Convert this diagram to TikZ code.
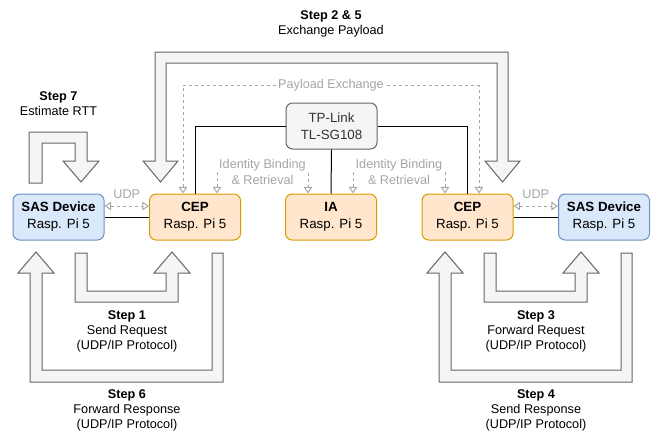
\documentclass[tikz,border=0pt]{standalone}
\usepackage{fontspec}
\setmainfont{Liberation Sans}
\usepackage{tikz}
\usetikzlibrary{arrows.meta, calc, positioning}
\definecolor{sasfill}{HTML}{DAE8FC}
\definecolor{sasline}{HTML}{6C8EBF}
\definecolor{pifill}{HTML}{FFE6CC}
\definecolor{piline}{HTML}{D79B00}
\definecolor{swfill}{HTML}{F5F5F5}
\definecolor{swline}{HTML}{666666}
\definecolor{dashgray}{HTML}{A6A6A6}
\definecolor{notegray}{HTML}{A6A6A6}

\begin{document}
\begin{tikzpicture}[x=0.75pt, y=-0.75pt,
  box/.style={draw, rounded corners=5pt, line width=0.75pt, minimum width=68.25pt, minimum height=34.5pt, inner sep=0pt, align=center, font=\fontsize{10}{12.75}\selectfont},
  sas/.style={box, fill=sasfill, draw=sasline},
  pi/.style={box, fill=pifill, draw=piline},
  switch/.style={box, fill=swfill, draw=swline, text=black!80},
  wire/.style={line width=0.75pt},
  flow/.style={draw=dashgray, line width=0.75pt, dash pattern=on 2.25pt off 2.25pt, {Triangle[open,length=5pt,width=6.5pt]}-{Triangle[open,length=5pt,width=6.5pt]}},
  note/.style={fill=white, text=notegray, align=center, inner sep=1pt, font=\fontsize{9.5}{12}\selectfont},
  blockarrow/.style={fill=swfill, draw=swline, line width=0.75pt},
  steptext/.style={align=center, font=\fontsize{9.5}{11.25}\selectfont}
]
\useasboundingbox (0,0) rectangle (652,432);

% devices
\node[sas] (sasL) at (58.5,217) {\textbf{SAS Device}\\Rasp. Pi 5};
\node[pi] (cepL) at (195,217) {\textbf{CEP}\\Rasp. Pi 5};
\node[pi] (ia) at (331,217) {\textbf{IA}\\Rasp. Pi 5};
\node[pi] (cepR) at (467.5,217) {\textbf{CEP}\\Rasp. Pi 5};
\node[sas] (sasR) at (604,217) {\textbf{SAS Device}\\Rasp. Pi 5};
\node[switch] (tplink) at (331.5,126) {TP-Link\\TL-SG108};

% ethernet wiring
\draw[wire] (tplink.west) -| (cepL.north);
\draw[wire] (tplink.east) -| (cepR.north);
\draw[wire] (tplink.south) -- (ia.north);
\draw[wire] (sasL.east) -- (cepL.west);
\draw[wire] (cepR.east) -- (sasR.west);

% logical flows
\draw[flow] ($(sasL.east)+(0,-11)$) -- node[note, above=4pt] (udpL) {UDP} ($(cepL.west)+(0,-11)$);
\draw[flow] ($(cepR.east)+(0,-11)$) -- node[note, above=4pt] (udpR) {UDP} ($(sasR.west)+(0,-11)$);
\draw[flow] ($(cepL.north)+(22,0)$) -- ++(0,-22) -- node[note] (idL) {Identity Binding\\\& Retrieval} ++(91,0) -- ++(0,22);
\draw[flow] ($(ia.north)+(22,0)$) -- ++(0,-22) -- node[note] (idR) {Identity Binding\\\& Retrieval} ++(92,0) -- ++(0,22);
\draw[flow] ($(cepL.north)+(-12,0)$) -- ++(0,-108) -- node[note, inner sep=0.5pt] (pay) {Payload Exchange} ++(296,0) -- ++(0,108);

% step arrows
\draw[blockarrow] (160.5,182) -- (143,161) -- (155,161) -- (155,52) -- (508,52) -- (508,161) -- (520,161) -- (502.5,182) -- (485,161) -- (497,161) -- (497,63) -- (166,63) -- (166,161) -- (178,161) -- cycle;
\draw[blockarrow] (29,183) -- (29,132) -- (87,132) -- (87,161) -- (99,161) -- (81,182) -- (63,161) -- (75,161) -- (75,143) -- (42,143) -- (42,183) -- cycle;
\draw[blockarrow] (75,253) -- (87,253) -- (87,291) -- (166,291) -- (166,273) -- (154,273) -- (172,252) -- (190,273) -- (178,273) -- (178,302) -- (75,302) -- cycle;
\draw[blockarrow] (36,252) -- (54,273) -- (42,273) -- (42,370) -- (212,370) -- (212,253) -- (223,253) -- (223,382) -- (30,382) -- (30,273) -- (18,273) -- cycle;
\draw[blockarrow] (484,253) -- (496,253) -- (496,291) -- (575,291) -- (575,273) -- (563,273) -- (581,252) -- (599,273) -- (587,273) -- (587,302) -- (484,302) -- cycle;
\draw[blockarrow] (445,252) -- (463,273) -- (451,273) -- (451,370) -- (621,370) -- (621,253) -- (632,253) -- (632,382) -- (439,382) -- (439,273) -- (427,273) -- cycle;

% step captions
\node[steptext] (s25) at (331,24) {\textbf{Step 2 \& 5}\\Exchange Payload};
\node[steptext] (s7) at (58.5,104) {\textbf{Step 7}\\Estimate RTT};
\node[steptext] (s1) at (127,331) {\textbf{Step 1}\\Send Request\\(UDP/IP Protocol)};
\node[steptext] (s6) at (127,410) {\textbf{Step 6}\\Forward Response\\(UDP/IP Protocol)};
\node[steptext] (s3) at (536,331) {\textbf{Step 3}\\Forward Request\\(UDP/IP Protocol)};
\node[steptext] (s4) at (536,410) {\textbf{Step 4}\\Send Response\\(UDP/IP Protocol)};
\end{tikzpicture}
\end{document}
